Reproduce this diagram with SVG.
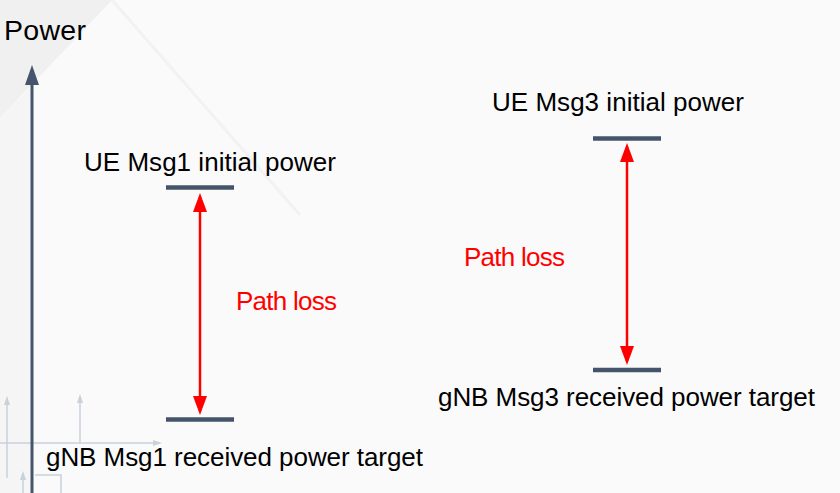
<svg xmlns="http://www.w3.org/2000/svg" width="840" height="493" viewBox="0 0 840 493">
  <style>
    .t { font-family: "Liberation Sans", Arial, sans-serif; font-size: 26px; fill: #000; }
    .big { font-size: 28.5px; }
    .red { fill: #ff0000; }
    .bar { stroke: #44546a; stroke-width: 4.5; }
    .pl { stroke: #ff0000; stroke-width: 2.5; fill: none; }
    .bg { stroke: #c9d1dc; stroke-width: 1.5; fill: none; }
  </style>
  <defs>
    <marker id="redHead" markerUnits="userSpaceOnUse" markerWidth="19" markerHeight="14" refX="15" refY="7" orient="auto-start-reverse">
      <path d="M0,0 L19,7 L0,14 z" fill="#ff0000"/>
    </marker>
    <marker id="axisHead" markerUnits="userSpaceOnUse" markerWidth="20" markerHeight="14" refX="15" refY="7" orient="auto">
      <path d="M0,0 L20,7 L0,14 z" fill="#44546a"/>
    </marker>
    <marker id="bgHead" markerUnits="userSpaceOnUse" markerWidth="9" markerHeight="6" refX="7" refY="3" orient="auto">
      <path d="M0,0 L9,3 L0,6 z" fill="#c9d1dc"/>
    </marker>
  </defs>

  <!-- background -->
  <rect x="0" y="0" width="840" height="493" fill="#fafafa"/>
  <polygon points="0,0 112,0 0,118" fill="#f0f0f0"/>
  <line x1="112" y1="0" x2="300" y2="215" stroke="#f2f2f2" stroke-width="3"/>
  <polygon points="0,118 30,88 30,493 0,493" fill="#f5f5f5"/>

  <!-- faint background decorations -->
  <g id="bg-decor">
    <line class="bg" x1="0" y1="443" x2="160" y2="443" marker-end="url(#bgHead)"/>
    <line class="bg" x1="7" y1="478" x2="7" y2="398" marker-end="url(#bgHead)"/>
    <line class="bg" x1="80" y1="443" x2="80" y2="396" marker-end="url(#bgHead)"/>
    <line class="bg" x1="23" y1="493" x2="23" y2="473" marker-end="url(#bgHead)"/>
    <polyline class="bg" points="35,475 61,475 61,493"/>
  </g>

  <!-- axis -->
  <g id="axis">
    <line x1="32" y1="493" x2="32" y2="70" stroke="#44546a" stroke-width="3" marker-end="url(#axisHead)"/>
    <text class="t big" x="4" y="40" textLength="82">Power</text>
  </g>

  <!-- nodes -->
  <g id="msg1-initial">
    <line class="bar" x1="166" y1="187.5" x2="234" y2="187.5"/>
    <text class="t" x="84" y="171" textLength="252">UE Msg1 initial power</text>
  </g>
  <g id="msg1-target">
    <line class="bar" x1="166" y1="419.5" x2="234" y2="419.5"/>
    <text class="t" x="46" y="466" textLength="377">gNB Msg1 received power target</text>
  </g>
  <g id="msg3-initial">
    <line class="bar" x1="593" y1="138.5" x2="661" y2="138.5"/>
    <text class="t" x="492" y="111" textLength="252">UE Msg3 initial power</text>
  </g>
  <g id="msg3-target">
    <line class="bar" x1="593" y1="370" x2="661" y2="370"/>
    <text class="t" x="438" y="406" textLength="377">gNB Msg3 received power target</text>
  </g>

  <!-- connectors -->
  <g id="connectors">
    <line class="pl" x1="200" y1="197" x2="200" y2="411" marker-start="url(#redHead)" marker-end="url(#redHead)"/>
    <text class="t red" x="236" y="310" textLength="101">Path loss</text>
    <line class="pl" x1="627" y1="147" x2="627" y2="361" marker-start="url(#redHead)" marker-end="url(#redHead)"/>
    <text class="t red" x="464" y="266" textLength="101">Path loss</text>
  </g>
</svg>
